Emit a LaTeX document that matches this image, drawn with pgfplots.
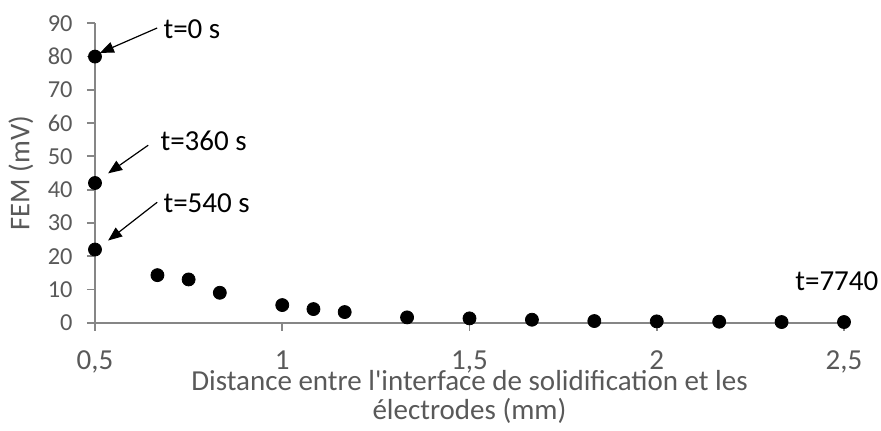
\documentclass[border=0pt]{standalone}
\usepackage{pgfplots}
\pgfplotsset{compat=1.18}
\usepackage{fontspec}
\setmainfont{Carlito}[Ligatures=TeXOff]
\usetikzlibrary{arrows.meta}
\definecolor{tickgray}{HTML}{595959}
\definecolor{axgray}{HTML}{868686}
\begin{document}
\begin{tikzpicture}
\useasboundingbox (-47.5pt,-53.65pt) rectangle (393pt,161.35pt);
\begin{axis}[
  scale only axis,
  width=374.5pt, height=149.7pt,
  xmin=0.5, xmax=2.5, ymin=0, ymax=90,
  axis lines*=left,
  axis line style={draw=axgray, line width=0.9pt},
  clip=false,
  xtick={0.5,1,1.5,2,2.5},
  ytick={0,10,...,90},
  tick style={draw=axgray, line width=0.9pt},
  tick align=outside,
  major tick length=4pt,
  /pgf/number format/use comma,
  /pgf/number format/assume math mode=true,
  xticklabel style={font=\fontsize{14.5}{16}\selectfont, text=tickgray, inner sep=0pt, yshift=-10pt},
  yticklabel style={font=\fontsize{12.2}{14}\selectfont, text=tickgray, xshift=-3.7pt},
  xlabel={Distance entre l'interface de solidification et les\\électrodes (mm)},
  xlabel style={font=\fontsize{14.5}{14.5}\selectfont, text=tickgray, align=center, inner sep=0pt, at={(axis description cs:0.5,0)}, anchor=center, yshift=-37pt},
  ylabel={FEM (mV)},
  ylabel style={font=\fontsize{14.3}{16}\selectfont, text=tickgray, at={(axis description cs:0,0.5)}, anchor=center, rotate=0, yshift=37pt},
]
\addplot[only marks, mark=*, mark size=3.25pt, black] coordinates {
(0.5,80) (0.5,42) (0.5,22)
(0.6667,14.3) (0.75,13.0) (0.8333,9.0)
(1.0,5.3) (1.0833,4.1) (1.1667,3.2)
(1.3333,1.6) (1.5,1.3) (1.6667,0.9)
(1.8333,0.5) (2.0,0.4) (2.1667,0.3)
(2.3333,0.2) (2.5,0.2)
};
\node[anchor=west, font=\fontsize{14.5}{16}\selectfont, inner sep=0pt] at (axis cs:0.682,88.1) {t=0 s};
\node[anchor=west, font=\fontsize{14.5}{16}\selectfont, inner sep=0pt] at (axis cs:0.674,54.6) {t=360 s};
\node[anchor=west, font=\fontsize{14.5}{16}\selectfont, inner sep=0pt] at (axis cs:0.682,36.0) {t=540 s};
\node[anchor=west, font=\fontsize{14.5}{16}\selectfont, inner sep=0pt] at (axis cs:2.369,12.5) {t=7740};
\draw[-{Triangle[length=7pt,width=5.5pt]}, black, line width=0.6pt] (axis cs:0.666,88.6) -- (axis cs:0.513,81.1);
\draw[-{Triangle[length=7pt,width=5.5pt]}, black, line width=0.6pt] (axis cs:0.642,53.35) -- (axis cs:0.535,44.9);
\draw[-{Triangle[length=7pt,width=5.5pt]}, black, line width=0.6pt] (axis cs:0.666,36.2) -- (axis cs:0.535,24.7);
\end{axis}
\end{tikzpicture}
\end{document}
